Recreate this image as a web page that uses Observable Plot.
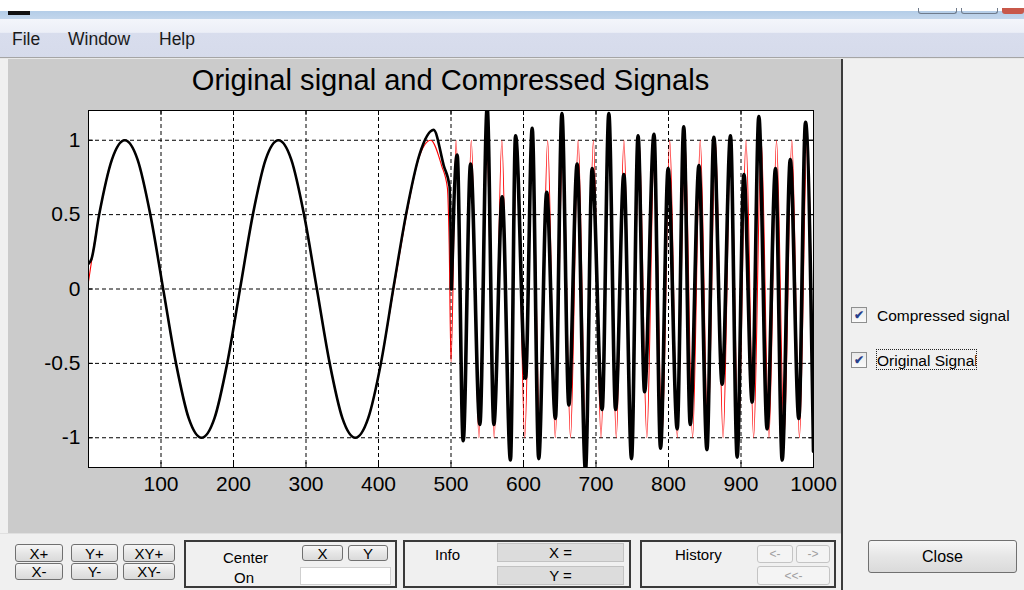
<!DOCTYPE html>
<html>
<head>
<meta charset="utf-8">
<script src="https://cdn.jsdelivr.net/npm/d3@7"></script>
<script src="https://cdn.jsdelivr.net/npm/@observablehq/plot@0.6"></script>
<style>
  html, body { margin: 0; padding: 0; }
  body { width: 1024px; height: 590px; overflow: hidden; position: relative; background: #f0f0f0; font-family: "Liberation Sans", Arial, sans-serif; }
  .abs { position: absolute; }
  .btn { position: absolute; box-sizing: border-box; border: 1px solid #707070; border-radius: 3px;
         background: linear-gradient(#f6f6f6, #e6e6e6 50%, #dadada); font-size: 15px; color: #000;
         display: flex; align-items: center; justify-content: center; line-height: 1; }
  .btn.dis { border-color: #c4c4c4; background: #f4f4f4; color: #a0a0a0; font-size: 12px; }
  .box { position: absolute; box-sizing: border-box; border: 2px solid #3a3a3a; }
  .lbl { position: absolute; font-size: 15px; color: #000; line-height: 1; }
  .fld { position: absolute; box-sizing: border-box; background: #dcdcdc; border: 1px solid #c2c2c2; font-size: 15px;
         display: flex; align-items: center; justify-content: center; line-height: 1; }
  .chk { position: absolute; box-sizing: border-box; width: 16px; height: 16px; border: 1px solid #8e8f8f;
         background: linear-gradient(#e9e9e9, #fafafa); font-size: 12px; color: #27408b; display: flex;
         align-items: center; justify-content: center; line-height: 1; font-weight: bold; }
</style>
</head>
<body>
<div class="abs" style="left:0;top:0;width:1024px;height:11px;background:#fff"></div>
<div class="abs" style="left:0;top:11px;width:1024px;height:8px;background:linear-gradient(#b4cde8,#c3d6ec)"></div>
<div class="abs" style="left:8px;top:11px;width:22px;height:4px;background:#111"></div>
<div class="abs" style="left:918px;top:8px;width:39px;height:6px;border:1px solid #6f7b8c;border-top:none;border-radius:0 0 3px 3px;box-sizing:border-box"></div>
<div class="abs" style="left:961px;top:8px;width:37px;height:6px;border:1px solid #6f7b8c;border-top:none;border-radius:0 0 3px 3px;box-sizing:border-box"></div>
<div class="abs" style="left:1002px;top:8px;width:22px;height:6px;background:#c8584a;border-radius:0 0 3px 3px"></div>
<div class="abs" style="left:0;top:19px;width:1024px;height:38px;background:linear-gradient(#f3f5fb 0%, #eceff7 35%, #d8dded 38%, #d6dbeb 100%)"></div>
<div class="abs" style="left:0;top:57px;width:1024px;height:1px;background:#a5a5a5"></div>
<div class="abs" style="left:0;top:58px;width:1024px;height:1px;background:#e8e8e8"></div>
<div class="abs" style="left:12px;top:31px;font-size:17.5px;color:#1a1a1a;line-height:1">File</div>
<div class="abs" style="left:68px;top:31px;font-size:17.5px;color:#1a1a1a;line-height:1">Window</div>
<div class="abs" style="left:159px;top:31px;font-size:17.5px;color:#1a1a1a;line-height:1">Help</div>

<div id="chart" class="abs" style="left:8px;top:59px;width:833px;height:474px"></div>
<div class="abs" style="left:0;top:66px;width:901px;text-align:center;font-size:29.1px;line-height:1;color:#000">Original signal and Compressed Signals</div>

<div class="abs" style="left:841px;top:59px;width:2px;height:531px;background:#3c3c3c"></div>
<div class="abs" style="left:0;top:533px;width:841px;height:1px;background:#e0e0e0"></div>

<div class="chk" style="left:851px;top:307px">&#10004;</div>
<div class="lbl" style="left:877px;top:308px;font-size:15.5px">Compressed signal</div>
<div class="chk" style="left:851px;top:352px">&#10004;</div>
<div class="abs" style="left:876px;top:349px;width:101px;height:21px;box-sizing:border-box;border:1px dotted #222;overflow:hidden">
  <div style="position:absolute;left:0;top:3px;font-size:15.5px;line-height:1;white-space:nowrap">Original Signal</div>
</div>
<div class="btn" style="left:868px;top:540px;width:149px;height:33px;font-size:16px">Close</div>

<div class="btn" style="left:15px;top:544px;width:48px;height:18px">X+</div>
<div class="btn" style="left:71px;top:544px;width:47px;height:18px">Y+</div>
<div class="btn" style="left:123px;top:544px;width:52px;height:18px">XY+</div>
<div class="btn" style="left:15px;top:563px;width:48px;height:17px">X-</div>
<div class="btn" style="left:71px;top:563px;width:47px;height:17px">Y-</div>
<div class="btn" style="left:123px;top:563px;width:52px;height:17px">XY-</div>

<div class="box" style="left:184px;top:540px;width:213px;height:48px"></div>
<div class="lbl" style="left:223px;top:550px">Center</div>
<div class="lbl" style="left:234px;top:570px">On</div>
<div class="btn" style="left:302px;top:545px;width:41px;height:16px">X</div>
<div class="btn" style="left:348px;top:545px;width:40px;height:16px">Y</div>
<div class="abs" style="left:300px;top:567px;width:91px;height:18px;background:#fff;border:1px solid #cfcfcf;box-sizing:border-box"></div>

<div class="box" style="left:403px;top:540px;width:228px;height:48px"></div>
<div class="lbl" style="left:435px;top:547px">Info</div>
<div class="fld" style="left:497px;top:543px;width:127px;height:19px">X =</div>
<div class="fld" style="left:497px;top:566px;width:127px;height:19px">Y =</div>

<div class="box" style="left:640px;top:540px;width:196px;height:48px"></div>
<div class="lbl" style="left:675px;top:547px">History</div>
<div class="btn dis" style="left:757px;top:545px;width:36px;height:18px">&lt;-</div>
<div class="btn dis" style="left:796px;top:545px;width:34px;height:18px">-&gt;</div>
<div class="btn dis" style="left:757px;top:566px;width:73px;height:19px">&lt;&lt;-</div>

<script>
// ---- data ----
const xTicks = [100, 200, 300, 400, 500, 600, 700, 800, 900, 1000];
const xGridTicks = [100, 200, 300, 400, 500, 600, 700, 800, 900];
const yTicks = [-1, -0.5, 0, 0.5, 1];
const yTickLabels = ["-1", "-0.5", "0", "0.5", "1"];

// Original signal (red)
const origX = [0, 14.7, 32.3, 50, 67.7, 85.3, 103, 120.7, 138.3, 156, 173.7, 191.3, 209, 226.7, 244.3, 262,
  279.7, 297.3, 315, 332.7, 350.3, 368, 385.7, 403.3, 421, 438.7, 455, 472, 487, 495, 497.5, 500, 507,
  517.5, 528, 538.5, 549.1, 559.6, 570.1, 580.6, 591.2, 601.7, 612.2, 622.7, 633.3, 643.8, 654.3, 664.8,
  675.4, 685.9, 696.4, 706.9, 717.5, 728.0, 738.5, 749.0, 759.6, 770.1, 780.6, 791.1, 801.7, 812.2, 822.7,
  833.2, 843.8, 854.3, 864.8, 875.3, 885.9, 896.4, 906.9, 917.4, 928.0, 938.5, 949.0, 959.5, 970.1, 980.6,
  991.1, 1000];
const origY = [0.05, 0.5, 0.87, 1, 0.87, 0.5, 0, -0.5, -0.87, -1, -0.87, -0.5, 0, 0.5, 0.87, 1,
  0.87, 0.5, 0, -0.5, -0.87, -1, -0.87, -0.5, 0, 0.5, 0.87, 1, 0.83, 0.68, 0.3, -0.49, 1,
  -1, 1, -1, 1, -1, 1, -1, 1, -1, 1, -1, 1, -1, 1, -1,
  1, -1, 1, -1, 1, -1, 1, -1, 1, -1, 1, -1, 1, -1, 1,
  -1, 1, -1, 1, -1, 1, -1, 1, -1, 1, -1, 1, -1, 1, -1,
  1, -0.97];

// Compressed signal (black)
const compX = [0, 4, 14.7, 32.3, 50, 67.7, 85.3, 103, 120.7, 138.3, 156, 173.7, 191.3, 209, 226.7, 244.3,
  262, 279.7, 297.3, 315, 332.7, 350.3, 368, 385.7, 403.3, 421, 438.7, 456.3, 476, 490, 498, 500.5,
  508.5, 516.8, 527, 539.8, 549.9, 559.1, 570.6, 582, 589, 602.8, 612, 621, 632, 644, 653, 662.5,
  674, 685.5, 694.7, 708.5, 717.7, 727, 738.4, 749, 758, 767, 780, 789, 799.5, 812, 821, 830,
  842, 853, 862.5, 874, 885.5, 894.7, 904, 915.4, 924.6, 936, 947.6, 956.8, 968, 979.7, 989, 1000];
const compY = [0.17, 0.2, 0.5, 0.87, 1, 0.87, 0.5, 0, -0.5, -0.87, -1, -0.87, -0.5, 0, 0.5, 0.87,
  1, 0.87, 0.5, 0, -0.5, -0.87, -1, -0.87, -0.5, 0.02, 0.52, 0.9, 1.07, 0.83, 0.69, 0.0,
  0.90, -1.02, 0.84, -0.91, 1.22, -0.91, 0.62, -1.15, 1.03, -0.6, 1.08, -1.14, 0.65, -0.87, 1.18, -0.78,
  0.84, -1.22, 0.81, -0.81, 1.18, -0.81, 0.77, -1.14, 1.03, -0.69, 1.04, -1.07, 0.81, -0.94, 1.09, -0.91,
  0.83, -1.08, 1.02, -0.64, 1.03, -1.13, 0.77, -0.76, 1.16, -0.94, 0.81, -1.15, 0.87, -0.87, 1.12, -1.09];

const xDomain = [0, 1000];
const yDomain = [-1.2, 1.2];
const compSplitX = 500.5; // where the compressed signal turns to the fast part

// ---- build ----
const orig = origX.map((x, i) => ({x, y: origY[i]}));
const comp = compX.map((x, i) => ({x, y: compY[i]}));
const compSlow = comp.filter(d => d.x <= compSplitX);
const compFast = comp.filter(d => d.x >= compSplitX);

const W = 833, H = 474, mL = 80, mR = 28, mT = 51, mB = 66;
const tickPx = 5;
const tyLen = (yDomain[1] - yDomain[0]) * tickPx / (H - mT - mB);
const txLen = (xDomain[1] - xDomain[0]) * tickPx / (W - mL - mR);

const chart = Plot.plot({
  width: W, height: H,
  marginLeft: mL, marginRight: mR, marginTop: mT, marginBottom: mB,
  style: {background: "#cbcbcb", fontFamily: "'Liberation Sans', Arial, sans-serif", fontSize: "21px", color: "#000"},
  x: {domain: xDomain},
  y: {domain: yDomain},
  marks: [
    Plot.frame({fill: "#fff", stroke: null}),
    Plot.gridX(xGridTicks, {stroke: "#000", strokeOpacity: 1, strokeWidth: 1, strokeDasharray: "4,3"}),
    Plot.gridY(yTicks, {stroke: "#000", strokeOpacity: 1, strokeWidth: 1, strokeDasharray: "4,3"}),
    Plot.line(orig, {x: "x", y: "y", stroke: "#ff0000", strokeWidth: 1.1, curve: "monotone-x", clip: true}),
    Plot.line(compSlow, {x: "x", y: "y", stroke: "#000", strokeWidth: 2.6, curve: "monotone-x", clip: true}),
    Plot.line(compFast, {x: "x", y: "y", stroke: "#000", strokeWidth: 3.6, curve: "monotone-x", clip: true}),
    Plot.ruleX(xTicks, {x: d => d, y1: yDomain[0], y2: yDomain[0] + tyLen, stroke: "#000"}),
    Plot.ruleX(xTicks, {x: d => d, y1: yDomain[1], y2: yDomain[1] - tyLen, stroke: "#000"}),
    Plot.ruleY(yTicks, {y: d => d, x1: xDomain[0], x2: xDomain[0] + txLen, stroke: "#000"}),
    Plot.ruleY(yTicks, {y: d => d, x1: xDomain[1], x2: xDomain[1] - txLen, stroke: "#000"}),
    Plot.frame({stroke: "#000", strokeWidth: 1}),
    Plot.axisX({ticks: xTicks, tickSize: 0, tickPadding: 9, tickFormat: d => String(d), fontSize: 21, label: null}),
    Plot.axisY({ticks: yTicks, tickSize: 0, tickPadding: 8, tickFormat: d => yTickLabels[yTicks.indexOf(d)], fontSize: 21, label: null})
  ]
});
document.getElementById("chart").appendChild(chart);
</script>
</body>
</html>
